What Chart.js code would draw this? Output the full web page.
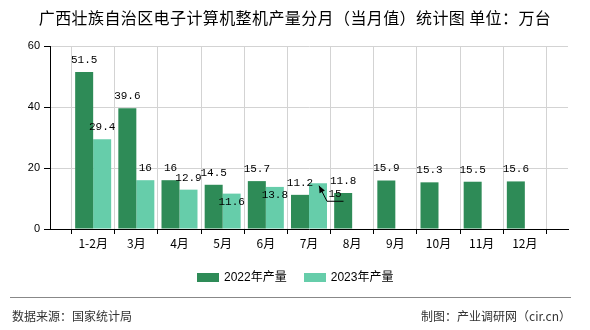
<!DOCTYPE html>
<html>
<head>
<meta charset="utf-8">
<script src="https://cdn.jsdelivr.net/npm/chart.js@4/dist/chart.umd.min.js"></script>
<style>
  html, body { margin: 0; padding: 0; background: #fff; }
  #wrap { position: relative; width: 590px; height: 330px; overflow: hidden; font-family: "Noto Sans CJK SC", "Liberation Sans", sans-serif; }
  #chart { position: absolute; left: 0; top: 0; }
  .title { position: absolute; left: 0; width: 590px; top: 7px; text-align: center; font-size: 16px; line-height: 20px; color: #000; letter-spacing: 0.4px; }
  .legend { position: absolute; top: 269px; left: 197px; display: flex; align-items: center; font-size: 12px; line-height: 16px; color: #000; font-family: "Liberation Sans", "Noto Sans CJK SC", sans-serif; }
  .legend .sw { width: 22px; height: 9px; margin-right: 5px; }
  .legend .item { display: flex; align-items: center; margin-right: 17px; }
  .rule { position: absolute; left: 10px; width: 561px; top: 297px; height: 1px; background: #888; }
  .foot { position: absolute; top: 308px; font-size: 12px; line-height: 16px; color: #333; }
</style>
</head>
<body>
<div id="wrap">
  <canvas id="chart" width="590" height="330"></canvas>
  <div class="title">广西壮族自治区电子计算机整机产量分月（当月值）统计图 单位：万台</div>
  <div class="legend" id="legend"></div>
  <div class="rule"></div>
  <div class="foot" style="left:12px;">数据来源：国家统计局</div>
  <div class="foot" style="right:19px;">制图：产业调研网（cir.cn）</div>
</div>
<script>
// Monthly output, 10k units
const categories = ['1-2月', '3月', '4月', '5月', '6月', '7月', '8月', '9月', '10月', '11月', '12月'];
const output2022 = [51.5, 39.6, 16, 14.5, 15.7, 11.2, 11.8, 15.9, 15.3, 15.5, 15.6];
const output2023 = [29.4, 16, 12.9, 11.6, 13.8, 15, null, null, null, null, null];
const seriesNames = ['2022年产量', '2023年产量'];
const seriesColors = ['#2e8b57', '#66cdaa'];
const yTicks = [0, 20, 40, 60];

// the axis carries an empty slot on each side of the months
const axisLabels = [''].concat(categories, ['']);
const pad = arr => [null].concat(arr, [null]);

// legend
const legendEl = document.getElementById('legend');
seriesNames.forEach((name, i) => {
  const item = document.createElement('div');
  item.className = 'item';
  const sw = document.createElement('div');
  sw.className = 'sw';
  sw.style.background = seriesColors[i];
  const tx = document.createElement('span');
  tx.textContent = name;
  item.appendChild(sw);
  item.appendChild(tx);
  legendEl.appendChild(item);
});

// value labels drawn above each bar, with a few moved to avoid overlaps
const valueLabels = {
  id: 'valueLabels',
  afterDatasetsDraw(chart, args, opts) {
    const ctx = chart.ctx;
    ctx.save();
    ctx.font = opts.font;
    ctx.fillStyle = '#000';
    ctx.strokeStyle = '#000';
    ctx.textAlign = 'center';
    ctx.textBaseline = 'middle';
    chart.data.datasets.forEach((ds, di) => {
      const meta = chart.getDatasetMeta(di);
      meta.data.forEach((bar, i) => {
        const v = ds.data[i];
        if (v == null) return;
        const tweak = (opts.moved[di] || {})[chart.data.labels[i]];
        let x = bar.x, y = bar.y - 12;
        if (tweak) { x = bar.x + tweak.dx; y = bar.y + tweak.dy; }
        ctx.fillText(String(v), x, y);
        if (tweak && tweak.leader) {
          const ux0 = x - 8, ux1 = x + 8.5, uy = y + 7;
          const tx = bar.x + 1, ty = bar.y + 2.5;
          ctx.lineWidth = 1;
          ctx.beginPath();
          ctx.moveTo(ux1, uy);
          ctx.lineTo(ux0, uy);
          ctx.lineTo(tx, ty);
          ctx.stroke();
          const ang = Math.atan2(ty - uy, tx - ux0);
          const L = 7, W = 3;
          ctx.beginPath();
          ctx.moveTo(tx, ty);
          ctx.lineTo(tx - L * Math.cos(ang) + W * Math.sin(ang), ty - L * Math.sin(ang) - W * Math.cos(ang));
          ctx.lineTo(tx - L * Math.cos(ang) - W * Math.sin(ang), ty - L * Math.sin(ang) + W * Math.cos(ang));
          ctx.closePath();
          ctx.fill();
        }
      });
    });
    ctx.restore();
  }
};

new Chart(document.getElementById('chart'), {
  type: 'bar',
  data: {
    labels: axisLabels,
    datasets: [
      { label: seriesNames[0], data: pad(output2022), backgroundColor: seriesColors[0] },
      { label: seriesNames[1], data: pad(output2023), backgroundColor: seriesColors[1] }
    ]
  },
  options: {
    responsive: false,
    animation: false,
    devicePixelRatio: 1,
    datasets: { bar: { categoryPercentage: 0.834, barPercentage: 1 } },
    layout: { padding: { left: 0, right: 22, top: 46, bottom: 0 } },
    plugins: {
      legend: { display: false },
      title: { display: false },
      tooltip: { enabled: false },
      valueLabels: {
        font: '11px "Liberation Mono", "DejaVu Sans Mono", monospace',
        moved: {
          1: {
            '5月': { dx: 0, dy: 8 },
            '6月': { dx: 0, dy: 8 },
            '7月': { dx: 17, dy: 11, leader: true }
          }
        }
      }
    },
    scales: {
      x: {
        type: 'category',
        offset: false,
        grid: { color: '#d3d3d3', tickColor: '#000', tickLength: 5, drawTicks: true },
        border: { color: '#000', width: 1 },
        ticks: { color: '#000', autoSkip: false, maxRotation: 0, padding: 2,
                 font: { family: '"Noto Sans CJK SC", sans-serif', size: 12 } },
        afterFit(s) { s.height = 101; }
      },
      y: {
        min: 0,
        max: 60,
        afterBuildTicks(s) { s.ticks = yTicks.map(v => ({ value: v })); },
        grid: { color: '#d3d3d3', tickColor: '#000', tickLength: 6, drawTicks: true },
        border: { color: '#000', width: 1 },
        ticks: { color: '#000', padding: 4,
                 font: { family: '"Liberation Sans", sans-serif', size: 11 } },
        afterFit(s) { s.width = 50; }
      }
    }
  },
  plugins: [valueLabels]
});
</script>
</body>
</html>
